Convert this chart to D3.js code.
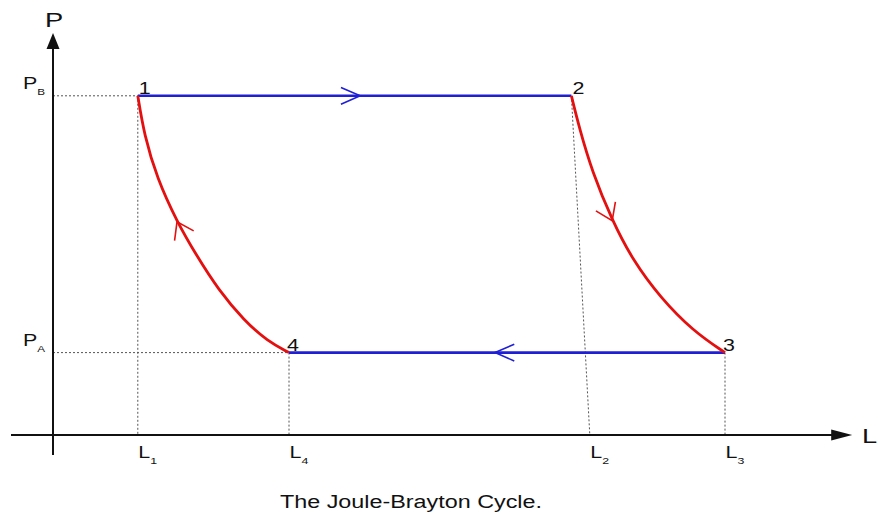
<!DOCTYPE html>
<html><head><meta charset="utf-8">
<script src="https://cdn.jsdelivr.net/npm/d3@7"></script>
<style>body{margin:0;background:#fff}svg{display:block}</style></head>
<body><svg id="c" width="878" height="517"></svg>
<script>
// ---- data (abstract units: L = length, P = pressure) ----
const stateNames = ["1", "2", "3", "4"];
const stateL = [1.06, 6.48, 8.40, 2.95];
const stateP = [8.48, 8.48, 2.06, 2.06];

const pressureNames = ["B", "A"];
const pressureValues = [8.48, 2.06];

const lengthTickNames = ["1", "4", "2", "3"];
const lengthTickValues = [1.06, 2.95, 6.71, 8.40];
const lengthTickTopL = [1.06, 2.95, 6.48, 8.40];
const lengthTickTopP = [8.48, 2.06, 8.48, 2.06];

// compression curve between 1 and 4 (red), listed from state 1 to state 4
const curve14L = [1.06, 1.14, 1.30, 1.55, 1.79, 2.07, 2.39, 2.68, 2.95];
const curve14P = [8.48, 7.50, 6.42, 5.33, 4.50, 3.62, 2.86, 2.35, 2.06];
// expansion 2 -> 3 (red)
const curve23L = [6.48, 6.58, 6.74, 6.99, 7.25, 7.59, 8.00, 8.40];
const curve23P = [8.48, 7.67, 6.58, 5.36, 4.36, 3.44, 2.60, 2.06];

const blueArrowL = [3.84, 5.525];   // 1->2 and 3->4
const redArrowIndex = [3, 3];       // index in curve14 / curve23

const titleText = "The Joule-Brayton Cycle.";
const axisNames = ["P", "L"];

// ---- drawing ----
const svg = d3.select("#c");
const x = d3.scaleLinear().domain([0, 10]).range([53, 853]);
const y = d3.scaleLinear().domain([0, 10]).range([435, 35]);
const SX = 1.3; // horizontal text stretch
const FONT = "Liberation Sans, Arial, Helvetica, sans-serif";

function label(px, py, main, size, sub, subSize) {
  const t = svg.append("text")
    .attr("transform", `translate(${px},${py}) scale(${SX},1)`)
    .attr("font-family", FONT).attr("font-size", size).attr("fill", "#111");
  t.append("tspan").text(main);
  if (sub) t.append("tspan").attr("dy", size * 0.36).attr("font-size", subSize).text(sub);
  return t;
}

// dotted guides
const dot = {stroke: "#555", "stroke-width": 1, "stroke-dasharray": "2,2", fill: "none"};
function applyAttrs(sel, a) { for (const k in a) sel.attr(k, a[k]); return sel; }
pressureValues.forEach((p, i) => {
  const Lend = i === 0 ? stateL[0] : stateL[3];
  applyAttrs(svg.append("line").attr("x1", x(0)).attr("x2", x(Lend))
    .attr("y1", y(p)).attr("y2", y(p)), dot);
});
lengthTickValues.forEach((l, i) => {
  applyAttrs(svg.append("line").attr("x1", x(lengthTickTopL[i])).attr("y1", y(lengthTickTopP[i]))
    .attr("x2", x(l)).attr("y2", y(0)), dot);
});

// axes
svg.append("line").attr("x1", x(-0.525)).attr("x2", x(9.74)).attr("y1", y(0)).attr("y2", y(0))
  .attr("stroke", "#111").attr("stroke-width", 2);
svg.append("line").attr("x1", x(0)).attr("x2", x(0)).attr("y1", y(-0.5)).attr("y2", y(9.7))
  .attr("stroke", "#111").attr("stroke-width", 2);
// arrow heads
const xt = x(9.99), yt = y(10.05);
svg.append("path").attr("d", `M${xt},${y(0)} L${xt - 21},${y(0) - 5.5} L${xt - 21},${y(0) + 5.5} Z`).attr("fill", "#111");
svg.append("path").attr("d", `M${x(0)},${yt} L${x(0) - 6.5},${yt + 16} L${x(0) + 6.5},${yt + 16} Z`).attr("fill", "#111");

// blue isobars
const blue = "#1f1fd6", red = "#e41010";
svg.append("line").attr("x1", x(stateL[0])).attr("x2", x(stateL[1]))
  .attr("y1", y(stateP[0])).attr("y2", y(stateP[1])).attr("stroke", blue).attr("stroke-width", 2.6);
svg.append("line").attr("x1", x(stateL[2])).attr("x2", x(stateL[3]))
  .attr("y1", y(stateP[2])).attr("y2", y(stateP[3])).attr("stroke", blue).attr("stroke-width", 2.6);

// red adiabats
const lineGen = d3.line().x(d => x(d[0])).y(d => y(d[1])).curve(d3.curveBasis);
const pts14 = curve14L.map((l, i) => [l, curve14P[i]]);
const pts23 = curve23L.map((l, i) => [l, curve23P[i]]);
[pts14, pts23].forEach(pts => svg.append("path").attr("d", lineGen(pts))
  .attr("fill", "none").attr("stroke", red).attr("stroke-width", 2.8));

// chevron arrows
function chevron(tx, ty, ang, color, len, half) {
  const back = ang + Math.PI;
  const a1 = back - half, a2 = back + half;
  svg.append("path")
    .attr("d", `M${tx + len * Math.cos(a1)},${ty + len * Math.sin(a1)} L${tx},${ty} L${tx + len * Math.cos(a2)},${ty + len * Math.sin(a2)}`)
    .attr("fill", "none").attr("stroke", color).attr("stroke-width", 1.6);
}
chevron(x(blueArrowL[0]), y(stateP[0]), 0, blue, 21, 0.41);
chevron(x(blueArrowL[1]), y(stateP[2]), Math.PI, blue, 21, 0.41);
// travel 4 -> 1 (against list order) and 2 -> 3 (with list order)
[[pts14, -1], [pts23, 1]].forEach(([pts, dir], k) => {
  const i = redArrowIndex[k];
  const p = pts[i], nx = pts[i + 1], pv = pts[i - 1];
  let ang = Math.atan2(y(nx[1]) - y(pv[1]), x(nx[0]) - x(pv[0]));
  if (dir < 0) ang += Math.PI;
  chevron(x(p[0]), y(p[1]), ang, red, 19, 0.6);
});

// state labels
stateNames.forEach((n, i) => label(x(stateL[i]) + (i < 2 ? 1 : -2), y(stateP[i]) - 2, n, 16.5));

// pressure labels
pressureNames.forEach((n, i) => label(23, y(pressureValues[i]) - 6.5, "P", 16.5, n, 9));
// length labels
lengthTickNames.forEach((n, i) => label(x(lengthTickValues[i]) + 0.5, 458, "L", 16.5, n, 9.5));

// axis names
label(45, 27, axisNames[0], 21);
label(862, 443, axisNames[1], 21);

// title
svg.append("text").attr("x", 280).attr("y", 508).attr("font-family", FONT).attr("font-size", 18)
  .attr("textLength", 262).attr("lengthAdjust", "spacingAndGlyphs").attr("fill", "#111").text(titleText);
</script></body></html>
